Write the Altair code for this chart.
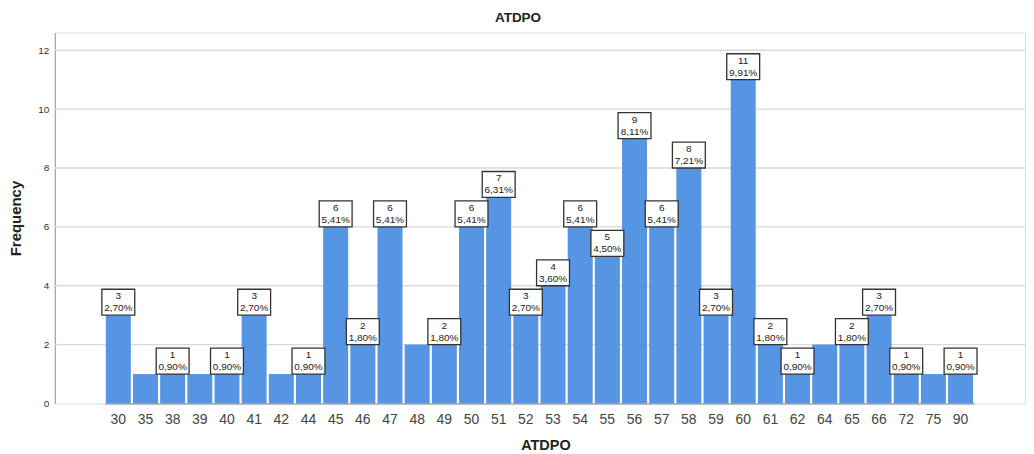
import altair as alt
import pandas as pd

categories = [30, 35, 38, 39, 40, 41, 42, 44, 45, 46, 47, 48, 49, 50, 51, 52,
              53, 54, 55, 56, 57, 58, 59, 60, 61, 62, 64, 65, 66, 72, 75, 90]
frequencies = [3, 1, 1, 1, 1, 3, 1, 1, 6, 2, 6, 2, 2, 6, 7, 3,
               4, 6, 5, 9, 6, 8, 3, 11, 2, 1, 2, 2, 3, 1, 1, 1]
labeled = [1, 0, 1, 0, 1, 1, 0, 1, 1, 1, 1, 0, 1, 1, 1, 1,
           1, 1, 1, 1, 1, 1, 1, 1, 1, 1, 0, 1, 1, 1, 0, 1]
y_ticks = [0, 2, 4, 6, 8, 10, 12]

total = sum(frequencies)
df = pd.DataFrame({
    "ATDPO": [str(c) for c in categories],
    "Frequency": frequencies,
    "labeled": labeled,
})
df["pct"] = [f"{v / total * 100:.2f}".replace(".", ",") + "%" for v in frequencies]
df["cnt"] = [str(v) for v in frequencies]
order = [str(c) for c in categories]
grid_df = pd.DataFrame({"g": y_ticks[1:]})

FONT = "Liberation Sans"
W, H = 973, 372

x = alt.X("ATDPO:N", sort=order,
          scale=alt.Scale(paddingInner=0.08, paddingOuter=0.04, range=[50, 922]),
          axis=alt.Axis(title="ATDPO", labelAngle=0, labelFontSize=14,
                        labelColor="#444444", labelFont=FONT, ticks=False,
                        labelPadding=9, domainColor="#aaaaaa", domainWidth=1.3,
                        titleFont=FONT, titleFontSize=14.5, titleFontWeight="bold",
                        titleColor="#222222", titlePadding=12, titleX=492))
y = alt.Y("Frequency:Q",
          scale=alt.Scale(domain=[0, 12.6], nice=False),
          axis=alt.Axis(values=y_ticks, labelFontSize=10, grid=False,
                        labelColor="#333333", labelFont=FONT, ticks=False,
                        labelPadding=6, domainColor="#aaaaaa", domainWidth=1.3,
                        title="Frequency", titleFont=FONT, titleFontSize=15,
                        titleFontWeight="bold", titleColor="#222222",
                        titlePadding=14))

grid = alt.Chart(grid_df).mark_rule(color="#d9d9d9", strokeWidth=1.3).encode(
    y=alt.Y("g:Q", scale=alt.Scale(domain=[0, 12.6], nice=False)),
    x=alt.value(0), x2=alt.value(W))

bars = alt.Chart(df).mark_bar(color="#5595E3").encode(x=x, y=y)

lab = alt.Chart(df).transform_filter("datum.labeled == 1")

boxes = lab.mark_point(
    shape="M-1,-1.576H1V0H-1Z", size=1089, filled=True, fill="white",
    opacity=1, stroke="#333333", strokeWidth=1.3, strokeOpacity=1,
).encode(x=alt.X("ATDPO:N", sort=order), y="Frequency:Q")

t1 = lab.mark_text(fontSize=10, font=FONT, color="#222222", dy=-19,
                   baseline="middle").encode(
    x=alt.X("ATDPO:N", sort=order), y="Frequency:Q", text="cnt:N")
t2 = lab.mark_text(fontSize=10, font=FONT, color="#222222", dy=-7,
                   baseline="middle").encode(
    x=alt.X("ATDPO:N", sort=order), y="Frequency:Q", text="pct:N")

chart = alt.layer(grid, bars, boxes, t1, t2).properties(
    width=W, height=H,
    title=alt.TitleParams("ATDPO", font=FONT, fontSize=13.5, fontWeight="bold",
                          color="#222222", anchor="middle", offset=8, dx=-22),
    padding={"left": 0, "top": 2, "right": 0, "bottom": 0},
).configure_view(stroke=None).configure(background="white")

chart.save("out.html", embed_options={"renderer": "svg", "actions": False})
